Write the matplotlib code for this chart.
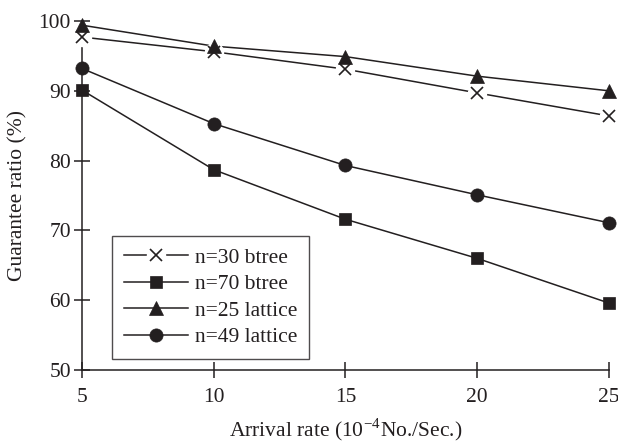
import matplotlib

matplotlib.use("Agg")

import matplotlib.pyplot as plt
from matplotlib.legend_handler import HandlerTuple

# data
arrival_rate = [5, 10, 15, 20, 25]
btree_30 = [97.7, 95.6, 93.1, 89.7, 86.4]
btree_70 = [90.1, 78.7, 71.6, 66.0, 59.6]
lattice_25 = [99.4, 96.4, 94.9, 92.1, 90.0]
lattice_49 = [93.2, 85.3, 79.3, 75.1, 71.1]

y_ticks = [50, 60, 70, 80, 90, 100]

INK = "#231f20"

plt.rcParams["font.family"] = ["Liberation Serif", "DejaVu Serif"]
plt.rcParams["mathtext.fontset"] = "stix"

fig = plt.figure(figsize=(6.18, 4.44), dpi=100)
ax = fig.add_axes([0.1327, 0.1667, 0.8523, 0.786])

series = [
    (btree_30, "x", 9, "n=30 btree"),
    (btree_70, "s", 9, "n=70 btree"),
    (lattice_25, "^", 9.5, "n=25 lattice"),
    (lattice_49, "o", 9.5, "n=49 lattice"),
]

handles = []
labels = []
for values, marker, size, label in series:
    ax.plot(arrival_rate, values, color=INK, linewidth=1.1, zorder=3, clip_on=False)
    edge = 1.2 if marker == "x" else 0.5
    if marker == "x":
        # white halo so lines stop short of the cross
        ax.plot(arrival_rate, values, linestyle="none", marker="o", markersize=13,
                markerfacecolor="white", markeredgecolor="white", zorder=4, clip_on=False)
    ax.plot(arrival_rate, values, linestyle="none", marker=marker, markersize=size,
            markerfacecolor=INK, markeredgecolor=INK, markeredgewidth=edge,
            zorder=5, clip_on=False)

    # legend proxies
    line_proxy, = ax.plot([], [], color=INK, linewidth=1.1)
    mark_proxy, = ax.plot([], [], linestyle="none", marker=marker, markersize=size,
                          markerfacecolor=INK, markeredgecolor=INK, markeredgewidth=edge)
    if marker == "x":
        halo_proxy, = ax.plot([], [], linestyle="none", marker="o", markersize=13,
                              markerfacecolor="white", markeredgecolor="white")
        handles.append((line_proxy, halo_proxy, mark_proxy))
    else:
        handles.append((line_proxy, mark_proxy))
    labels.append(label)

ax.set_xlim(5, 25)
ax.set_ylim(50, 100)
ax.set_xticks(arrival_rate)
ax.set_yticks(y_ticks)

for side in ("top", "right"):
    ax.spines[side].set_visible(False)
for side in ("left", "bottom"):
    ax.spines[side].set_color(INK)
    ax.spines[side].set_linewidth(1.1)

ax.tick_params(axis="both", direction="inout", length=12, width=1.1, color=INK,
               labelsize=15.5, labelcolor=INK)
ax.tick_params(axis="y", pad=2)
ax.tick_params(axis="x", pad=7)

ax.set_xlabel(r"Arrival rate (10$^{\mathregular{-4}}$No./Sec.)", fontsize=15.5,
              color=INK, labelpad=7)
ax.set_ylabel("Guarantee ratio (%)", fontsize=15.5, color=INK, labelpad=8)

legend = ax.legend(handles, labels, handler_map={tuple: HandlerTuple(ndivide=1)},
                   loc="lower left", bbox_to_anchor=(0.057, 0.031), fontsize=15.5,
                   frameon=True, fancybox=False, handlelength=3.0, handletextpad=0.3,
                   labelspacing=0.3, borderpad=0.55, borderaxespad=0)
legend.get_frame().set_edgecolor(INK)
legend.get_frame().set_linewidth(1.0)
for text in legend.get_texts():
    text.set_color(INK)

fig.savefig("out.png", dpi=100)
plt.close(fig)
